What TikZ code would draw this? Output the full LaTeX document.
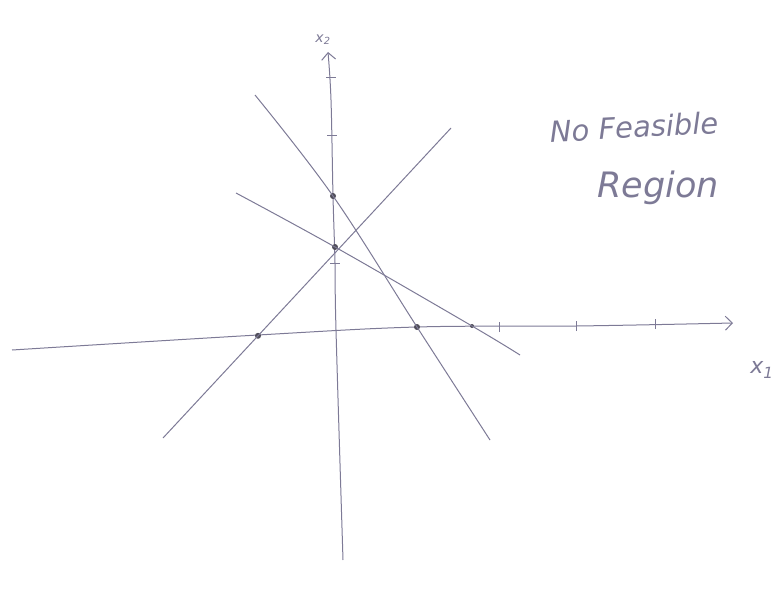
\documentclass[tikz,border=0pt]{standalone}
\usepackage{fontspec}
\setmainfont{DejaVu Sans}
\usetikzlibrary{arrows.meta}
\definecolor{pencil}{RGB}{125,122,150}
\definecolor{dotc}{RGB}{80,78,90}
\tikzset{
  pen/.style={draw=pencil, line width=1pt},
  axisline/.style={pen, -{Straight Barb[length=7pt,width=14pt]}},
  tick/.style={pen, line width=0.8pt},
  dotmark/.style={circle, fill=dotc, inner sep=0pt, minimum size=6pt},
  lbl/.style={text=pencil, font=\fontsize{14}{16}\selectfont\itshape},
  hand/.style={text=pencil, font=\fontsize{29}{32}\selectfont\itshape}
}
\begin{document}
\begin{tikzpicture}[x=1pt,y=-1pt]
\useasboundingbox (0,0) rectangle (779,591);
% axes
\draw[axisline] plot[smooth, tension=0.6] coordinates {(12,350) (258,335) (417,327) (576,326) (733,323)};
\draw[axisline] plot[smooth, tension=0.6] coordinates {(343,560) (336,330) (335,263) (333,196) (331,100) (328,52)};
% ticks on x-axis
\foreach \x/\y [count=\i] in {499/327,576/326,655/324}{
  \coordinate (xt\i) at (\x,\y);
  \draw[tick] ([yshift=-5]xt\i) -- ([yshift=5]xt\i);
}
% ticks on y-axis
\foreach \x/\y [count=\i] in {331/77,332/135,335/263}{
  \coordinate (yt\i) at (\x,\y);
  \draw[tick] ([xshift=-5]yt\i) -- ([xshift=5]yt\i);
}
% points
\node[dotmark] (p1) at (333,196) {};
\node[dotmark] (p2) at (335,247) {};
\node[dotmark] (p3) at (258,335.8) {};
\node[dotmark] (p4) at (417,327) {};
\node[dotmark, minimum size=4pt] (p5) at (472,326) {};
% constraint lines
\coordinate (b1) at (163,438);
\coordinate (b2) at (451,128);
\draw[pen] plot[smooth, tension=0.6] coordinates {(255,95) (p1.center) (p4.center) (490,440)};
\draw[pen] (b1) -- (p3.center) -- (b2);
\draw[pen] plot[smooth, tension=0.6] coordinates {(236,193) (p2.center) (p5.center) (520,355)};
% labels
\node[lbl] (lx2) at (323,40) {x\textsubscript{2}};
\node[lbl, font=\fontsize{22}{24}\selectfont\itshape] (lx1) at (762,370) {x\textsubscript{1}};
\node[hand, rotate=3] (t1) at (634,127) {No Feasible};
\node[hand, font=\fontsize{35}{38}\selectfont\itshape] (t2) at (658,188) {Region};
\end{tikzpicture}
\end{document}
